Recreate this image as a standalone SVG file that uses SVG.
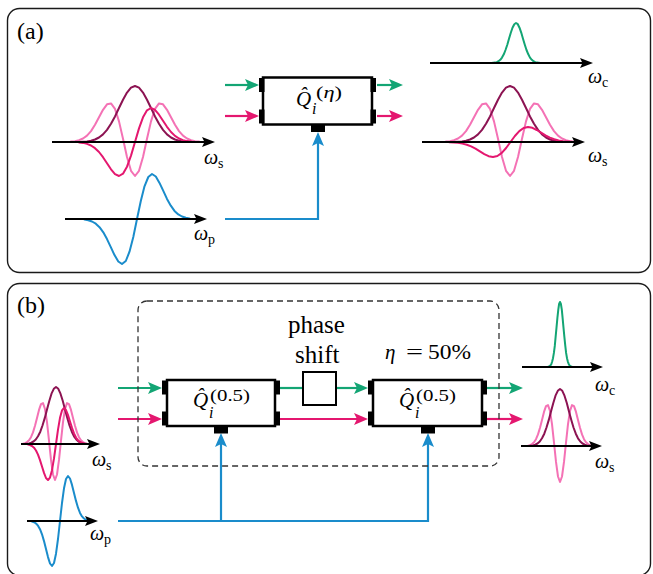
<svg xmlns="http://www.w3.org/2000/svg" xmlns:xlink="http://www.w3.org/1999/xlink" width="653" height="574" viewBox="0 0 653 574">
<style>
text{font-family:"Liberation Serif","Times New Roman",serif;fill:#000}
.it{font-style:italic}
.frame{fill:#fff;stroke:#1a1a1a;stroke-width:1.4}
.dash{fill:none;stroke:#333;stroke-width:1.3;stroke-dasharray:6,4}
.box{fill:#fff;stroke:#000;stroke-width:2.5}
.tab{fill:#000}
.curve{fill:none;stroke-width:2;stroke-linejoin:round;stroke-linecap:round}
.g{stroke:#13a574}.m{stroke:#e4176f}.d{stroke:#8c1352}.p{stroke:#f472b5}.b{stroke:#1a8ccb}
.axis{fill:none;stroke:#000;stroke-width:2;marker-end:url(#ah-k)}
.conn{fill:none;stroke-width:2.2}
.lbl{font-size:20px}
.sub{font-size:14px}
</style>
<defs>
<marker id="ah-k" markerWidth="14" markerHeight="12" refX="9" refY="5" orient="auto" markerUnits="userSpaceOnUse"><path d="M0,0 L13,5 L0,10 L2.5,5 z" fill="#000"/></marker>
<marker id="ah-g" markerWidth="16" markerHeight="14" refX="10" refY="6" orient="auto" markerUnits="userSpaceOnUse"><path d="M0,0 L14,6 L0,12 L3,6 z" fill="#13a574"/></marker>
<marker id="ah-m" markerWidth="16" markerHeight="14" refX="10" refY="6" orient="auto" markerUnits="userSpaceOnUse"><path d="M0,0 L14,6 L0,12 L3,6 z" fill="#e4176f"/></marker>
<marker id="ah-b" markerWidth="16" markerHeight="14" refX="10" refY="6" orient="auto" markerUnits="userSpaceOnUse"><path d="M0,0 L14,6 L0,12 L3,6 z" fill="#1a8ccb"/></marker>
</defs>

<g id="panel-a">
<rect class="frame" x="7.5" y="8.5" width="643" height="264" rx="12"/>
<text x="17" y="39" font-size="24">(a)</text>
</g>
<g id="panel-b">
<rect class="frame" x="7.5" y="283.5" width="643" height="292" rx="12"/>
<text x="17" y="313" font-size="24">(b)</text>
</g>

<!-- panel (a) input signal plot -->
<g id="plot-a-signal-in">
<path id="pinkA" class="curve p" d="M71,141.6 L75,141.2 79,140.2 83,138.5 87,135.6 91,131.1 95,124.8 99,117.3 103,109.8 107,104.3 111,103.4 115,108.9 119,121.4 123,138.8 127,157 131,170.8 135,176 139,170.8 143,157 147,138.8 151,121.4 155,108.9 159,103.4 163,104.3 167,109.8 171,117.3 175,124.8 179,131.1 183,135.6 187,138.5 191,140.2 195,141.2 199,141.6"/>
<path id="darkA" class="curve d" d="M79,141.9 L87,141.4 91,140.7 95,139.5 99,137.5 103,134.4 107,129.9 111,123.8 115,116.4 119,108 123,99.7 127,92.6 131,87.7 135,86 139,87.7 143,92.6 147,99.7 151,108 155,116.4 159,123.8 163,129.9 167,134.4 171,137.5 175,139.5 179,140.7 183,141.4 191,141.9"/>
<path class="curve m" d="M79,142.4 L83,142.9 87,143.9 91,145.5 95,148.2 99,152 103,157.2 107,163.2 111,169.3 115,174.1 119,176 123,173.7 127,166.7 131,155.6 135,142 139,128.4 143,117.3 147,110.3 151,108 155,109.9 159,114.7 163,120.8 167,126.8 171,132 175,135.9 179,138.5 183,140.1 187,141.1 191,141.6"/>
<path class="axis" d="M52,142 H211"/>
<text class="lbl it" x="204" y="164">ω</text><text class="sub" x="218" y="168">s</text>
</g>

<g id="plot-a-pump">
<path class="curve b" d="M84.5,219.6 L88.3,220.2 92,221.5 95.8,223.7 99.5,227.2 103.3,232.3 107,239.1 110.8,247.1 114.5,255.1 118.3,261.5 122,264 125.8,261 129.5,251.7 133.3,237 137,219 140.8,201 144.5,186.3 148.3,177 152,174 155.8,176.5 159.5,182.9 163.3,190.9 167,198.9 170.8,205.7 174.5,210.9 178.3,214.4 182,216.5 185.8,217.8 189.5,218.4"/>
<path class="axis" d="M65,219 H203"/>
<text class="lbl it" x="194" y="240">ω</text><text class="sub" x="208" y="244">p</text>
</g>

<g id="plot-a-idler-out">
<path class="curve g" d="M491.5,62.9 L495,62.6 496.8,62.1 498.5,61.2 500.3,59.8 502,57.6 503.8,54.3 505.5,50 507.3,44.7 509,38.7 510.8,32.8 512.5,27.7 514.3,24.2 516,23 517.8,24.2 519.5,27.7 521.3,32.8 523,38.7 524.8,44.7 526.5,50 528.3,54.3 530,57.6 531.8,59.8 533.5,61.2 535.3,62.1 537,62.6 540.5,62.9"/>
<path class="axis" d="M430,63 H589"/>
<text class="lbl it" x="588" y="83">ω</text><text class="sub" x="602" y="87">c</text>
</g>

<g id="plot-a-signal-out">
<use href="#pinkA" xlink:href="#pinkA" x="375"/>
<use href="#darkA" xlink:href="#darkA" x="375"/>
<path class="curve m" d="M449.3,142.2 L458,142.8 462.4,143.6 466.8,144.7 471.1,146.4 475.5,148.7 479.9,151.4 484.3,154.1 488.6,156.2 493,157 497.4,156 501.8,152.9 506.1,148 510.5,142 514.9,136 519.3,131.1 523.6,128 528,127 532.4,127.8 536.8,130 541.1,132.6 545.5,135.3 549.9,137.6 554.3,139.3 558.6,140.5 563,141.2 571.8,141.8"/>
<path class="axis" d="M422,142 H581"/>
<text class="lbl it" x="588" y="162">ω</text><text class="sub" x="602" y="166">s</text>
</g>

<!-- panel (b) plots -->
<g id="plot-b-signal-in">
<path id="pinkB" class="curve p" d="M23,443.6 L25,443.1 27,442.1 29,440.3 31,437.2 33,432.4 35,425.8 37,417.9 39,409.9 41,404.1 43,403.1 45,409 47,422.2 49,440.6 51,459.9 53,474.5 55,480 57,474.5 59,459.9 61,440.6 63,422.2 65,409 67,403.1 69,404.1 71,409.9 73,417.9 75,425.8 77,432.4 79,437.2 81,440.3 83,442.1 85,443.1 87,443.6"/>
<path id="darkB" class="curve d" d="M24.5,443.9 L29,443.4 31.3,442.7 33.5,441.5 35.8,439.5 38,436.3 40.3,431.7 42.5,425.5 44.8,417.9 47,409.4 49.3,401 51.5,393.7 53.8,388.8 56,387 58.3,388.8 60.5,393.7 62.8,401 65,409.4 67.3,417.9 69.5,425.5 71.8,431.7 74,436.3 76.3,439.5 78.5,441.5 80.8,442.7 83,443.4 87.5,443.9"/>
<path class="curve m" d="M28,444.5 L30,445 32,446 34,447.7 36,450.5 38,454.6 40,460.1 42,466.5 44,472.9 46,478 48,480 50,477.6 52,470.2 54,458.4 56,444 58,429.6 60,417.8 62,410.4 64,408 66,410 68,415.1 70,421.5 72,427.9 74,433.4 76,437.5 78,440.3 80,442 82,443 84,443.5"/>
<path class="axis" d="M21,444 H96"/>
<text class="lbl it" x="92" y="466">ω</text><text class="sub" x="106" y="470">s</text>
</g>

<g id="plot-b-pump">
<path class="curve b" d="M32,521.6 L34,522.2 36,523.5 38,525.7 40,529.2 42,534.3 44,541.1 46,549.1 48,557.1 50,563.5 52,566 54,563 56,553.7 58,539 60,521 62,503 64,488.3 66,479 68,476 70,478.5 72,484.9 74,492.9 76,500.9 78,507.7 80,512.9 82,516.4 84,518.5 86,519.8 88,520.4"/>
<path class="axis" d="M27,521 H94"/>
<text class="lbl it" x="90" y="540">ω</text><text class="sub" x="104" y="544">p</text>
</g>

<g id="plot-b-idler-out">
<path class="curve g" stroke-width="1.6" d="M547.8,366.9 L549.5,366.3 550.4,365.5 551.3,364.2 552.1,361.8 553,358.2 553.9,352.9 554.8,345.9 555.6,337.2 556.5,327.6 557.4,317.9 558.3,309.6 559.1,304 560,302 560.9,304 561.8,309.6 562.6,317.9 563.5,327.6 564.4,337.2 565.3,345.9 566.1,352.9 567,358.2 567.9,361.8 568.8,364.2 569.6,365.5 570.5,366.3 572.3,366.9"/>
<path class="axis" d="M522,367 H599"/>
<text class="lbl it" x="595" y="391">ω</text><text class="sub" x="609" y="395">c</text>
</g>

<g id="plot-b-signal-out">
<use href="#pinkB" xlink:href="#pinkB" x="505" y="2"/>
<use href="#darkB" xlink:href="#darkB" x="504" y="2"/>
<path class="axis" d="M521,446 H598"/>
<text class="lbl it" x="595" y="468">ω</text><text class="sub" x="609" y="472">s</text>
</g>

<!-- connectors -->
<g id="connectors">
<path class="conn g" marker-end="url(#ah-g)" d="M225,85 H255"/>
<path class="conn m" marker-end="url(#ah-m)" d="M225,116 H255"/>
<path class="conn g" marker-end="url(#ah-g)" d="M377,85 H399"/>
<path class="conn m" marker-end="url(#ah-m)" d="M377,116 H399"/>
<path class="conn b" marker-end="url(#ah-b)" d="M225,219 H318 V136"/>

<path class="conn g" marker-end="url(#ah-g)" d="M118,388 H158"/>
<path class="conn m" marker-end="url(#ah-m)" d="M118,419 H158"/>
<path class="conn g" d="M280,388 H303"/>
<path class="conn g" marker-end="url(#ah-g)" d="M336,388 H364"/>
<path class="conn m" marker-end="url(#ah-m)" d="M280,419 H364"/>
<path class="conn g" marker-end="url(#ah-g)" d="M487,388 H519"/>
<path class="conn m" marker-end="url(#ah-m)" d="M487,419 H519"/>
<path class="conn b" marker-end="url(#ah-b)" d="M118,521 H428 V437"/>
<path class="conn b" marker-end="url(#ah-b)" d="M221,521 V437"/>
</g>

<!-- nodes -->
<g id="box-a">
<rect class="box" x="263" y="77.5" width="109" height="47"/>
<rect class="tab" x="259" y="78" width="5.5" height="14"/>
<rect class="tab" x="259" y="109.5" width="5.5" height="14"/>
<rect class="tab" x="370.5" y="78" width="5.5" height="14"/>
<rect class="tab" x="370.5" y="109.5" width="5.5" height="14"/>
<rect class="tab" x="311" y="124" width="14" height="8"/>
<text class="it" x="296" y="106" font-size="21">Q̂</text>
<text x="316" y="98" font-size="17" textLength="26" lengthAdjust="spacingAndGlyphs">(<tspan class="it">η</tspan>)</text>
<text class="it" x="312" y="114" font-size="16">i</text>
</g>

<g id="dashed-group">
<rect class="dash" x="138" y="301" width="361" height="165" rx="9"/>
</g>

<g id="box-b1">
<rect class="box" x="167" y="380" width="108" height="46"/>
<rect class="tab" x="162" y="380.5" width="5.5" height="14"/>
<rect class="tab" x="162" y="411.5" width="5.5" height="14"/>
<rect class="tab" x="274.5" y="380.5" width="5.5" height="14"/>
<rect class="tab" x="274.5" y="411.5" width="5.5" height="14"/>
<rect class="tab" x="214" y="425.5" width="14" height="8"/>
<text class="it" x="193" y="407" font-size="21">Q̂</text>
<text x="210" y="401" font-size="17" textLength="40" lengthAdjust="spacingAndGlyphs">(0.5)</text>
<text class="it" x="209" y="418" font-size="16">i</text>
</g>

<g id="phase-shift">
<rect x="303" y="372" width="33" height="33" fill="#fff" stroke="#000" stroke-width="2"/>
<text x="288" y="333" font-size="25">phase</text>
<text x="295" y="363" font-size="25">shift</text>
</g>

<g id="eta-label">
<text class="it" x="385" y="359" font-size="21">η</text>
<text x="406" y="359" font-size="21" textLength="17" lengthAdjust="spacingAndGlyphs">=</text>
<text x="428" y="359" font-size="20" textLength="43" lengthAdjust="spacingAndGlyphs">50%</text>
</g>

<g id="box-b2">
<rect class="box" x="373" y="380" width="109" height="46"/>
<rect class="tab" x="368" y="380.5" width="5.5" height="14"/>
<rect class="tab" x="368" y="411.5" width="5.5" height="14"/>
<rect class="tab" x="481.5" y="380.5" width="5.5" height="14"/>
<rect class="tab" x="481.5" y="411.5" width="5.5" height="14"/>
<rect class="tab" x="421" y="425.5" width="14" height="8"/>
<text class="it" x="399" y="407" font-size="21">Q̂</text>
<text x="416" y="401" font-size="17" textLength="40" lengthAdjust="spacingAndGlyphs">(0.5)</text>
<text class="it" x="415" y="418" font-size="16">i</text>
</g>
</svg>
